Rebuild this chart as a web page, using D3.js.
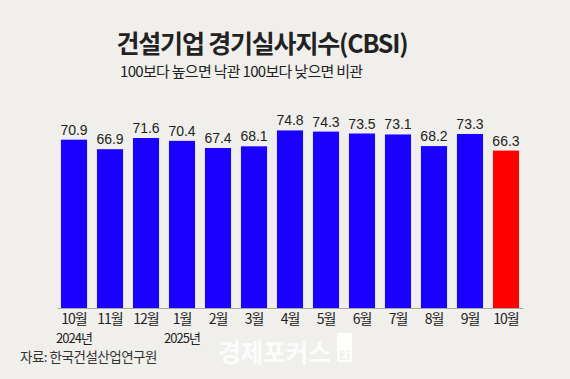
<!DOCTYPE html>
<html><head><meta charset="utf-8">
<script src="https://cdn.jsdelivr.net/npm/d3@7/dist/d3.min.js"></script>
<style>
html,body{margin:0;padding:0;background:#f0efec;}
svg{display:block;}
text{font-family:"Noto Sans CJK KR","Noto Sans",sans-serif;}
</style></head>
<body>
<svg id="c" width="570" height="379"></svg>
<script>
const months = ["10월","11월","12월","1월","2월","3월","4월","5월","6월","7월","8월","9월","10월"];
const years = ["2024년","","","2025년","","","","","","","","",""];
const values = [70.9,66.9,71.6,70.4,67.4,68.1,74.8,74.3,73.5,73.1,68.2,73.3,66.3];
const highlight = [false,false,false,false,false,false,false,false,false,false,false,false,true];

const svg = d3.select("#c");
svg.append("rect").attr("width",570).attr("height",379).attr("fill","#f0efec");

const x = d3.scaleBand().domain(d3.range(months.length)).range([57,523]).paddingInner(0.275).paddingOuter(0.11);
const y = d3.scaleLinear().domain([0,100]).range([308,70.6]);

svg.append("text").attr("x",262).attr("y",52.5).attr("text-anchor","middle")
  .attr("font-size",25).attr("font-weight",700).attr("letter-spacing",-1.2).attr("fill","#222")
  .text("건설기업 경기실사지수(CBSI)");
svg.append("text").attr("x",120).attr("y",77)
  .attr("font-size",15).attr("letter-spacing",-0.7).attr("fill","#222")
  .text("100보다 높으면 낙관 100보다 낮으면 비관");

svg.selectAll("rect.bar").data(values).enter().append("rect").attr("class","bar")
  .attr("x",(d,i)=>x(i)).attr("width",x.bandwidth())
  .attr("y",d=>y(d)).attr("height",d=>y(0)-y(d))
  .attr("fill",(d,i)=>highlight[i]?"#ff0000":"#1a00ff");

svg.selectAll("text.val").data(values).enter().append("text").attr("class","val")
  .attr("x",(d,i)=>x(i)+x.bandwidth()/2).attr("y",d=>y(d)-5)
  .attr("text-anchor","middle").attr("font-size",14).attr("fill","#222")
  .style("font-family","'Liberation Sans',Arial,sans-serif")
  .text(d=>d.toFixed(1));

const ax = svg.append("g").attr("transform","translate(0,308)")
  .call(d3.axisBottom(x).tickSize(0).tickFormat(()=>""));
ax.select(".domain").attr("stroke","#aaa").attr("stroke-width",1);

svg.selectAll("text.m").data(months).enter().append("text").attr("class","m")
  .attr("x",(d,i)=>x(i)+x.bandwidth()/2).attr("y",324)
  .attr("text-anchor","middle").attr("font-size",14).attr("letter-spacing",-1).attr("fill","#222")
  .text(d=>d);
svg.selectAll("text.yr").data(years).enter().append("text").attr("class","yr")
  .attr("x",(d,i)=>x(i)+x.bandwidth()/2).attr("y",343)
  .attr("text-anchor","middle").attr("font-size",13).attr("letter-spacing",-1).attr("fill","#222")
  .text(d=>d);

svg.append("text").attr("x",20).attr("y",362)
  .attr("font-size",13.5).attr("letter-spacing",-0.5).attr("fill","#333")
  .text("자료: 한국건설산업연구원");

// watermark
svg.append("text").attr("x",218).attr("y",362)
  .attr("font-size",25).attr("font-weight",700).attr("letter-spacing",-0.5).attr("fill","#fff").attr("opacity",0.85)
  .text("경제포커스");
svg.append("rect").attr("x",337).attr("y",333).attr("width",15).attr("height",29).attr("fill","#fff").attr("opacity",0.85);
svg.append("text").attr("x",344.5).attr("y",360).attr("text-anchor","middle")
  .attr("font-size",12).attr("font-weight",700).attr("fill","#f0efec").text("Ei");
</script>
</body></html>
